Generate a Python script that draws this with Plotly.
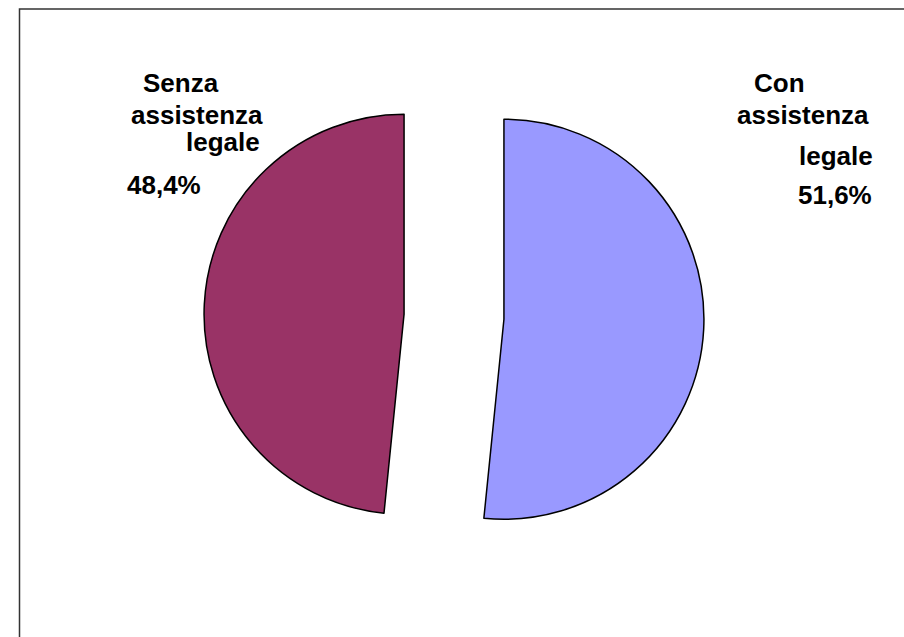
import plotly.graph_objects as go

# ---- data ----
categories = ["Con assistenza legale", "Senza assistenza legale"]
label_lines = [["Con", "assistenza", "legale"], ["Senza", "assistenza", "legale"]]
values = [51.6, 48.4]
colors = ["#9999FF", "#993366"]

W, H = 904, 637

def px(x):
    return x / W

def py(y):
    return 1 - y / H

# ---- layout positions (pixels: left edge, vertical centre) ----
line_pos = [
    [(753, 83), (736, 115), (798, 156)],   # Con assistenza legale
    [(142, 83), (130, 115), (185, 142)],   # Senza assistenza legale
]
pct_pos = [(797, 195), (126, 185)]

cx, cy, half = 454, 316.7, 250

fig = go.Figure(
    go.Pie(
        labels=categories,
        values=values,
        sort=False,
        direction="clockwise",
        rotation=0,
        pull=[0.25, 0.25],
        marker=dict(colors=colors, line=dict(color="#000000", width=1.5)),
        textinfo="none",
        hoverinfo="label+percent",
        showlegend=False,
        domain=dict(x=[px(cx - half), px(cx + half)], y=[py(cy + half), py(cy - half)]),
    )
)

font = dict(family="Liberation Sans, Arial, sans-serif", size=26, color="#000000")
annotations = []
for lines, poss in zip(label_lines, line_pos):
    for t, (x, y) in zip(lines, poss):
        annotations.append(dict(text="<b>%s</b>" % t, x=px(x), y=py(y), xref="paper", yref="paper",
                                xanchor="left", yanchor="middle", showarrow=False, font=font,
                                borderpad=0))
for v, (x, y) in zip(values, pct_pos):
    annotations.append(dict(text="<b>%s%%</b>" % ("%.1f" % v).replace(".", ","), x=px(x), y=py(y),
                            xref="paper", yref="paper", xanchor="left", yanchor="middle",
                            showarrow=False, font=font, borderpad=0))

fig.update_layout(
    width=W, height=H,
    margin=dict(l=0, r=0, t=0, b=0),
    paper_bgcolor="#FFFFFF",
    plot_bgcolor="#FFFFFF",
    annotations=annotations,
    shapes=[dict(type="rect", xref="paper", yref="paper",
                 x0=px(19.5), x1=px(920), y0=py(9), y1=py(660),
                 line=dict(color="#333333", width=1.5), fillcolor="rgba(0,0,0,0)")],
)

fig.write_html("out.html")
